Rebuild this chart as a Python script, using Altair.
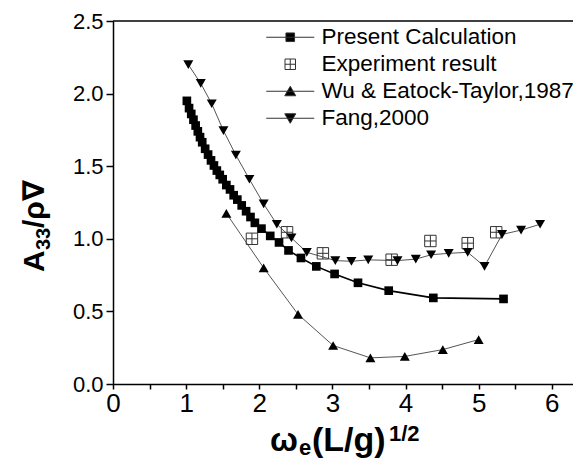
import altair as alt
import pandas as pd

names = ["Present Calculation", "Experiment result", "Wu & Eatock-Taylor,1987", "Fang,2000"]

present_x = [1.01, 1.04, 1.07, 1.10, 1.13, 1.16, 1.19, 1.22, 1.26, 1.30, 1.34, 1.38, 1.42, 1.46,
             1.50, 1.55, 1.60, 1.65, 1.70, 1.76, 1.82, 1.88, 1.94, 2.03, 2.15, 2.27, 2.40, 2.57,
             2.78, 3.03, 3.35, 3.77, 4.38, 5.34]
present_y = [1.95, 1.90, 1.86, 1.82, 1.78, 1.74, 1.70, 1.665, 1.62, 1.58, 1.54, 1.505, 1.47, 1.44,
             1.41, 1.37, 1.34, 1.30, 1.27, 1.23, 1.19, 1.15, 1.11, 1.07, 1.02, 0.975, 0.92, 0.868,
             0.81, 0.758, 0.697, 0.643, 0.593, 0.586]
exp_x = [1.90, 2.38, 2.87, 3.81, 4.34, 4.85, 5.24]
exp_y = [1.00, 1.045, 0.90, 0.856, 0.985, 0.97, 1.045]
wu_x = [1.55, 2.06, 2.53, 3.01, 3.52, 3.99, 4.51, 5.00]
wu_y = [1.175, 0.80, 0.48, 0.265, 0.18, 0.19, 0.237, 0.306]
fang_x = [1.03, 1.20, 1.35, 1.51, 1.68, 1.865, 2.06, 2.24, 2.44, 2.65, 3.04, 3.26, 3.49, 3.89,
          4.14, 4.35, 4.59, 4.85, 5.08, 5.32, 5.58, 5.84]
fang_y = [2.20, 2.07, 1.93, 1.745, 1.577, 1.41, 1.24, 1.10, 1.006, 0.907, 0.85, 0.845, 0.855, 0.85,
          0.86, 0.89, 0.90, 0.907, 0.81, 1.03, 1.06, 1.10]

x_ticks = [0, 0.5, 1, 1.5, 2, 2.5, 3, 3.5, 4, 4.5, 5, 5.5, 6]
y_ticks = [0, 0.5, 1.0, 1.5, 2.0, 2.5]

FONT = "Liberation Sans, Arial, DejaVu Sans"
XPATH = "M-1,-1H1V1H-1Z M0,-1V1 M-1,0H1"
# legend symbols: unit = 5 px (symbolSize 100)
legend_paths = [
    "M-4.8,0H4.8 M-0.86,-0.86H0.86V0.86H-0.86Z",
    "M-1.05,-1.05H1.05V1.05H-1.05Z M0,-1.05V1.05 M-1.05,0H1.05",
    "M-4.8,0H4.8 M0,-1.0L1.1,0.9H-1.1Z",
    "M-4.8,0H4.8 M0,1.0L1.1,-0.9H-1.1Z",
]
legend_fills = ["black", "transparent", "black", "black"]
legend_strokes = ["#333", "#333", "#333", "#333"]


def frame(xs, ys):
    return pd.DataFrame({"x": xs, "y": ys})


X = alt.X("x:Q",
          scale=alt.Scale(domain=[0, 6.29], nice=False, zero=False),
          axis=alt.Axis(values=x_ticks, title=None, grid=False,
                        labelExpr="datum.value % 1 == 0 ? format(datum.value, 'd') : ''",
                        labelFontSize=26, labelFont=FONT, labelColor="black",
                        tickSize=5, tickWidth=1.5, tickColor="black",
                        domainColor="black", domainWidth=1.5,
                        labelPadding=1, labelFlush=False, labelOverlap=False))
Y = alt.Y("y:Q",
          scale=alt.Scale(domain=[0, 2.5], nice=False),
          axis=alt.Axis(values=y_ticks, format=".1f", title=None, grid=False,
                        labelFontSize=22, labelFont=FONT, labelColor="black",
                        tickSize=7, tickWidth=1.5, tickColor="black",
                        domainColor="black", domainWidth=1.5,
                        labelPadding=3, labelFlush=False, labelOverlap=False))

present = frame(present_x, present_y)
exp = frame(exp_x, exp_y)
wu = frame(wu_x, wu_y)
fang = frame(fang_x, fang_y)

wu_line = alt.Chart(wu).mark_line(color="#555", strokeWidth=1).encode(x=X, y=Y)
fang_line = alt.Chart(fang).mark_line(color="#555", strokeWidth=1).encode(x=X, y=Y)
pres_line = alt.Chart(present).mark_line(color="black", strokeWidth=1.6).encode(x=X, y=Y)

pres_pts = alt.Chart(present).mark_point(shape="square", filled=True, color="black",
                                         size=75, opacity=1).encode(x=X, y=Y)
exp_pts = alt.Chart(exp).mark_point(shape=XPATH, filled=False, color="#333", strokeWidth=1,
                                    size=130, opacity=1).encode(x=X, y=Y)
wu_pts = alt.Chart(wu).mark_point(shape="triangle-up", filled=True, color="black",
                                  size=100, opacity=1).encode(x=X, y=Y)
fang_pts = alt.Chart(fang).mark_point(shape="triangle-down", filled=True, color="black",
                                      size=100, opacity=1).encode(x=X, y=Y)

top_rule = alt.Chart(alt.Data(values=[{}])).mark_rule(color="black", strokeWidth=1.5).encode(
    y=alt.datum(2.5))

leg = alt.Legend(title=None, orient="none", legendX=166, legendY=5,
                 labelFont=FONT, labelFontSize=22.5, labelColor="black", labelOffset=20,
                 labelLimit=400, symbolSize=100, symbolStrokeWidth=1, symbolOpacity=1,
                 rowPadding=4, padding=0)
legend_layer = alt.Chart(pd.DataFrame({"series": names})).transform_filter(
    "datum.series == 'none'").mark_point(opacity=1, size=100, strokeWidth=1).encode(
    shape=alt.Shape("series:N", scale=alt.Scale(domain=names, range=legend_paths), legend=leg),
    fill=alt.Fill("series:N", scale=alt.Scale(domain=names, range=legend_fills), legend=leg),
    stroke=alt.Stroke("series:N", scale=alt.Scale(domain=names, range=legend_strokes), legend=leg),
)


def label(txt, x, y, size, angle=0, weight="bold"):
    return alt.Chart(alt.Data(values=[{}])).mark_text(
        text=txt, font=FONT, fontSize=size, fontWeight=weight, color="black",
        align="left", baseline="alphabetic", angle=angle).encode(
        x=alt.value(x), y=alt.value(y))


titles = [
    label("ω", 157, 430, 33),
    label("e", 186, 434, 22),
    label("(L/g)", 199, 430, 34),
    label("1/2", 276, 420, 22),
    label("A", -69, 251, 30, angle=270),
    label("33", -63, 229, 20, angle=270),
    label("/ρ∇", -69, 207, 30, angle=270),
]

chart = alt.layer(
    wu_line, fang_line, pres_line, exp_pts, wu_pts, fang_pts, pres_pts, top_rule, legend_layer,
    *titles
).properties(
    width=460, height=363,
    padding={"left": 105, "top": 13, "right": 0, "bottom": 76},
    autosize=alt.AutoSizeParams(type="none"),
    background="white",
).configure_view(stroke=None)

chart.save("out.html", embed_options={"renderer": "svg", "actions": False})
